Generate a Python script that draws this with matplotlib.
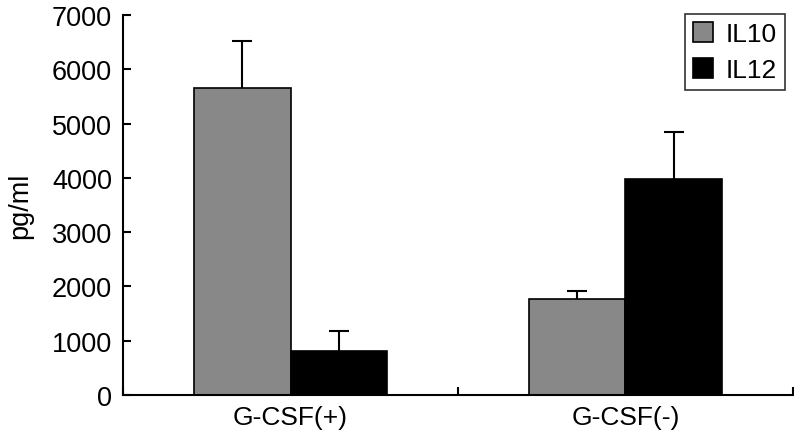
import matplotlib
matplotlib.use("Agg")
import matplotlib.pyplot as plt
import numpy as np

plt.rcParams['font.family'] = ['Liberation Sans', 'DejaVu Sans']

categories = ["G-CSF(+)", "G-CSF(-)"]
series_names = ["IL10", "IL12"]
il10 = [5650, 1760]
il10_err = [870, 150]
il12 = [816, 3985]
il12_err = [370, 865]
colors = ["#888888", "#000000"]
yticks = [0, 1000, 2000, 3000, 4000, 5000, 6000, 7000]

FS = 19

fig = plt.figure(figsize=(7.94, 4.35), dpi=100)
ax = fig.add_axes([0.155, 0.0897, 0.8437, 0.8733])

x = np.arange(len(categories))
w = 0.287
for vals, errs, col, name, off in [(il10, il10_err, colors[0], series_names[0], -w/2),
                                    (il12, il12_err, colors[1], series_names[1], w/2)]:
    bc = ax.bar(x + off, vals, w, color=col, edgecolor="black", linewidth=1.2,
                yerr=[np.zeros(len(vals)), errs], capsize=7,
                error_kw=dict(elinewidth=1.5, capthick=1.5, ecolor="black"), label=name)
    caps = bc.errorbar.lines[1]
    if len(caps) == 2:
        caps[0].set_visible(False)

ax.set_xlim(-0.5, 1.5)
ax.set_ylim(0, 7000)
ax.set_yticks(yticks)
ax.set_yticklabels([str(v) for v in yticks], fontsize=FS + 0.5)
ax.set_xticks([-0.5, 0.5, 1.5])
ax.set_xticklabels([])
ax.set_xticks(x, minor=True)
ax.set_xticklabels(categories, minor=True, fontsize=FS)
ax.tick_params(axis='x', which='minor', length=0, pad=7)
ax.tick_params(axis='x', which='major', direction='in', length=6, width=1.5)
ax.tick_params(axis='y', direction='in', length=6, width=1.5, pad=8)

for s in ['top', 'right']:
    ax.spines[s].set_visible(False)
for s in ['left', 'bottom']:
    ax.spines[s].set_linewidth(1.5)

ax.set_ylabel("pg/ml", fontsize=FS + 0.5, labelpad=13)

leg = ax.legend(loc='upper right', bbox_to_anchor=(0.988, 1.002), fontsize=FS, frameon=True, fancybox=False,
                handlelength=0.75, handleheight=0.75, handletextpad=0.5, borderpad=0.3,
                labelspacing=0.45, borderaxespad=0)
leg.get_frame().set_edgecolor("black")
leg.get_frame().set_linewidth(1.2)

fig.savefig("out.png", dpi=100)
